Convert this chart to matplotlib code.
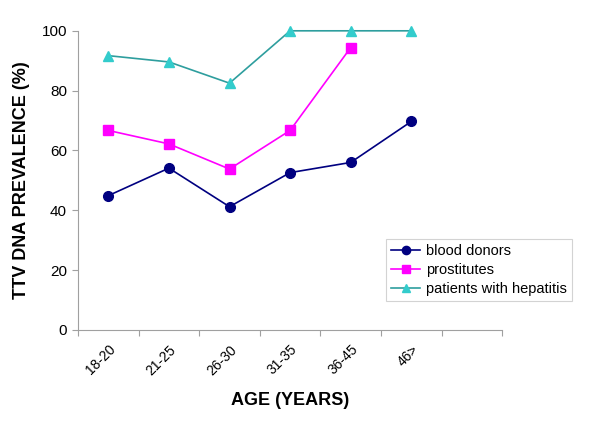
import matplotlib.pyplot as plt
import numpy as np

plt.rcParams['font.family'] = ['Liberation Sans', 'DejaVu Sans']

age_groups = ['18-20', '21-25', '26-30', '31-35', '36-45', '46>']
blood_donors = [44.9, 54.1, 41.2, 52.6, 56.0, 69.7]
prostitutes = [66.7, 62.2, 53.8, 66.7, 94.4]
hepatitis = [91.7, 89.6, 82.5, 100, 100, 100]

fig = plt.figure(figsize=(6, 4.28), dpi=100)
ax = fig.add_axes([0.13, 0.229, 0.707, 0.699])

x = np.arange(len(age_groups))
ax.plot(x, blood_donors, color='#000080', marker='o', markersize=7,
        markerfacecolor='#000080', markeredgecolor='#000080', lw=1.2,
        label='blood donors', clip_on=False)
ax.plot(x[:len(prostitutes)], prostitutes, color='#FF00FF', marker='s', markersize=7,
        markerfacecolor='#FF00FF', markeredgecolor='#FF00FF', lw=1.2,
        label='prostitutes', clip_on=False)
ax.plot(x, hepatitis, color='#2E9E9E', marker='^', markersize=7.5,
        markerfacecolor='#33CCCC', markeredgecolor='#33CCCC', lw=1.2,
        label='patients with hepatitis', clip_on=False)

# 7 category slots, last one empty
ax.set_xlim(-0.5, 6.5)
ax.set_ylim(0, 100)
ax.set_xticks(np.arange(-0.5, 7, 1))
ax.set_xticklabels([])
ax.set_xticks(x, minor=True)
ax.set_xticklabels(age_groups, minor=True, rotation=45, ha='right', rotation_mode='anchor',
                   fontsize=10)
ax.tick_params(axis='x', which='minor', length=0, pad=9)
ax.tick_params(axis='x', which='major', length=4, color='#A0A0A0', direction='out')
ax.set_yticks([0, 20, 40, 60, 80, 100])
ax.tick_params(axis='y', length=4, color='#A0A0A0', labelsize=11, pad=4)

for s in ['top', 'right']:
    ax.spines[s].set_visible(False)
for s in ['left', 'bottom']:
    ax.spines[s].set_color('#A0A0A0')

ax.set_xlabel('AGE (YEARS)', fontsize=13, fontweight='bold', labelpad=10)
ax.set_ylabel('TTV DNA PREVALENCE (%)', fontsize=13, fontweight='bold', labelpad=8)

leg = fig.legend(loc='upper left', bbox_to_anchor=(386/600, 1 - 239/428), fontsize=10.5,
                 frameon=True, fancybox=False, edgecolor='#C8C8C8', handlelength=2.0,
                 markerscale=0.85, borderpad=0.35, labelspacing=0.35, handletextpad=0.4,
                 borderaxespad=0)
leg.get_frame().set_linewidth(0.8)

fig.savefig('out.png', dpi=100)
